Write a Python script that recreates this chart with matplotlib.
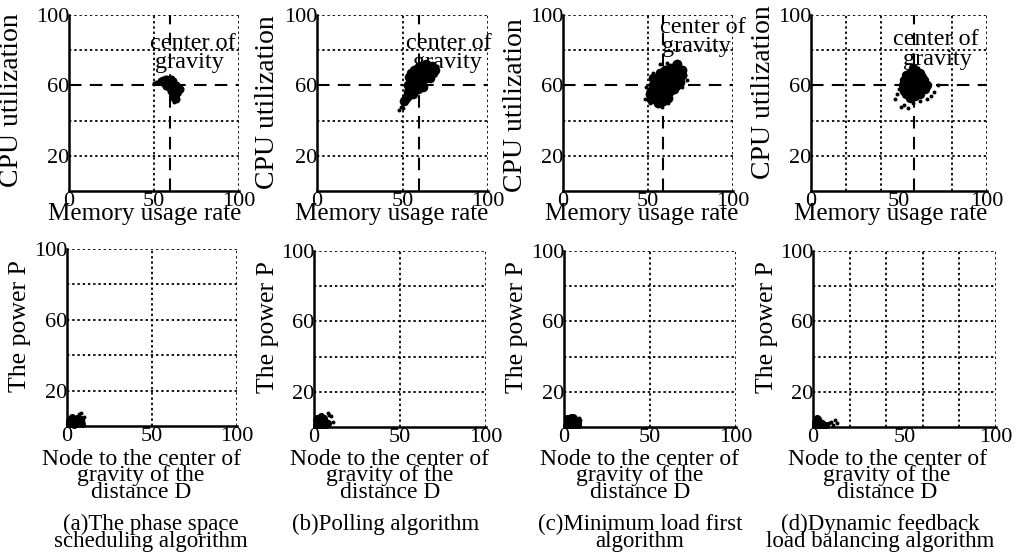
import matplotlib
matplotlib.use("Agg")
import matplotlib.pyplot as plt

W, H = 1024, 555
plt.rcParams['font.family'] = ['Liberation Serif', 'DejaVu Serif']

# ---- data ----
captions = [["(a)The phase space", "scheduling algorithm"],
            ["(b)Polling algorithm"],
            ["(c)Minimum load first", "algorithm"],
            ["(d)Dynamic feedback", "load balancing algorithm"]]
xticks = [0, 50, 100]
yticks = [20, 60, 100]
gravity_mem = [59.5, 59.5, 59, 58.5]
gravity_cpu = 60
top_vgrid = [[50, 100], [50, 100], [50, 100], [20, 40, 80, 100]]
top_hgrid = [20, 40, 80, 100]
bot_vgrid = [[50, 100], [50, 100], [50, 100], [20, 40, 60, 80, 100]]
bot_hgrid = [20, 40, 60, 80, 100]

# top row: memory usage rate / cpu utilization
a_core_x = [54, 55, 57, 59, 61, 56, 58, 60, 62, 57, 59, 61, 63, 60, 62, 64, 61, 63, 62, 63, 58, 60, 63, 65]
a_core_y = [62.5, 63, 63.5, 63, 62.5, 61.5, 61, 61, 60.5, 59.5, 59, 59, 58.5, 57, 57, 57, 55, 55, 53, 52, 62, 63.5, 60, 58]
a_out_x = [50, 51, 52.5, 53.5, 64.5, 62, 65.5]
a_out_y = [61.5, 61.8, 62, 62.2, 55, 50.5, 59]

b_core_x = [53, 54, 55, 55, 56, 56, 57, 57, 58, 58, 58, 59, 59, 60, 60, 61, 61, 62, 62, 62,
            63, 63, 64, 64, 65, 65, 66, 67, 60, 57, 53, 54, 66, 68, 56, 52, 51, 69, 64, 55]
b_core_y = [56, 59, 62, 57, 60, 64, 58, 62, 60, 65, 67, 62, 58, 64, 68, 61, 66, 63, 69, 59,
            66, 71, 64, 68, 70, 66, 68, 71, 71, 69, 60, 65, 64, 67, 55, 53, 51, 69, 72, 67]
b_out_x = [50, 49, 48, 50.5, 53, 70, 54.5]
b_out_y = [49.5, 48, 46, 47, 51.5, 71, 53]

c_core_x = [52, 53, 54, 54, 55, 56, 56, 56, 57, 58, 58, 58, 59, 60, 60, 61, 61, 62, 62, 63,
            63, 64, 64, 65, 66, 66, 67, 68, 60, 57, 55, 53, 69, 65, 59,
            51, 52, 70, 70, 67, 63, 56, 62, 67]
c_core_y = [57, 60, 55, 62, 58, 54, 61, 64, 57, 60, 63, 53, 66, 58, 62, 55, 64, 60, 67, 57,
            63, 65, 61, 68, 63, 66, 69, 65, 69, 67, 52, 64, 62, 58, 51,
            55, 52, 66, 69, 72, 70, 50, 53, 60]
c_out_x = [48, 50, 51, 49, 55, 58, 62, 70, 72, 73, 65, 68, 70, 53, 61, 57, 71]
c_out_y = [52, 56, 50, 59, 49, 48, 50, 70, 66, 63, 73, 72, 59, 67, 73, 72, 68]

d_core_x = [52, 53, 53, 54, 54, 55, 55, 56, 56, 57, 57, 58, 58, 59, 59, 60, 60, 61, 62, 62,
            63, 64, 65, 56, 54, 60, 58, 64, 65, 66, 63, 62]
d_core_y = [60, 57, 63, 55, 61, 58, 64, 53, 61, 56, 66, 59, 63, 54, 68, 61, 57, 64, 59, 55,
            62, 60, 58, 67, 66, 65, 70, 63, 61, 60, 65, 67]
d_out_x = [48, 49, 51, 53, 55, 58, 62, 66, 68, 70, 72, 50, 61, 59]
d_out_y = [52, 55, 48, 49, 47, 50, 51, 52, 54, 56, 60, 58, 70, 71]

# bottom row: distance D / power P
pa_core_x = [1, 2, 3, 4, 2, 5, 6, 3, 5, 7, 1, 4, 6, 8, 8, 9]
pa_core_y = [1, 2, 1, 3, 4, 2, 1, 5, 4, 3, 3, 0.5, 4.5, 2, 4, 1]
pa_out_x = [7, 8.5, 10, 9.5]
pa_out_y = [7, 7.5, 5, 3]

pb_core_x = [1, 2, 3, 4, 5, 6, 7, 2, 3, 4, 5, 6, 7, 1, 3, 5, 8, 2, 4, 6]
pb_core_y = [1, 1, 1, 1, 1, 1, 1, 3, 3, 3, 3, 3, 3, 4, 5, 5, 2, 5, 6, 5]
pb_out_x = [8, 9, 10, 11, 9]
pb_out_y = [8, 7, 6, 3, 1]

pc_core_x = [1, 2, 3, 4, 5, 6, 7, 8, 2, 3, 4, 5, 6, 7, 8, 3, 4, 5, 6, 2]
pc_core_y = [1, 1, 1, 1, 1, 1, 1, 1, 3, 3, 3, 3, 3, 3, 3, 5, 5.5, 5.5, 5, 5]
pc_out_x = [9, 9.5, 1, 8.5]
pc_out_y = [2, 4, 0.5, 5]

pd_core_x = [1, 2, 3, 4, 5, 6, 2, 3, 4, 5, 2, 3, 1, 7]
pd_core_y = [1, 1, 1, 1, 1, 1, 3, 3, 3, 2.5, 5, 4.5, 3, 1]
pd_out_x = [9, 10, 12, 13, 11]
pd_out_y = [2, 3, 4, 2, 1]

top_data = [(a_core_x, a_core_y, a_out_x, a_out_y), (b_core_x, b_core_y, b_out_x, b_out_y),
            (c_core_x, c_core_y, c_out_x, c_out_y), (d_core_x, d_core_y, d_out_x, d_out_y)]
bot_data = [(pa_core_x, pa_core_y, pa_out_x, pa_out_y), (pb_core_x, pb_core_y, pb_out_x, pb_out_y),
            (pc_core_x, pc_core_y, pc_out_x, pc_out_y), (pd_core_x, pd_core_y, pd_out_x, pd_out_y)]

# ---- layout (pixels) ----
top_px = [(69, 15, 239, 191), (317, 15, 488, 191), (563, 15, 733, 191), (811, 15, 987, 191)]
bot_px = [(67, 249, 237, 426), (314, 251, 486, 427), (564, 251, 736, 427), (813, 251, 996, 427)]
top_ylab = [(12, 100), (267, 102), (516, 105), (763, 92)]
top_xlab = [145, 392, 642, 891]
bot_ylab = [(20, 326), (268, 327), (517, 327), (767, 327)]
bot_xlab = [141, 390, 640, 887]
cap_x = [151, 386, 640, 880]
core_size = [34, 48, 50, 46]
grav_txt = [(73, 84, 71, 'center'), (77, 84, 76, 'center'), (57, 93, 58, 'left'), (71, 86, 72, 'center')]

DOT = (0, (1.3, 1.6))
DASH = (0, (6, 4))


def fx(x):
    return x / W


def fy(y):
    return 1 - y / H


def make_ax(fig, box):
    x0, y0, x1, y1 = box
    ax = fig.add_axes([fx(x0), fy(y1), (x1 - x0) / W, (y1 - y0) / H])
    ax.set_xlim(0, 100)
    ax.set_ylim(0, 100)
    ax.set_xticks(xticks)
    ax.set_yticks(yticks)
    ax.tick_params(length=0, labelsize=16)
    ax.tick_params(axis='x', pad=1)
    ax.tick_params(axis='y', pad=0)
    for s in ['top', 'right']:
        ax.spines[s].set_visible(False)
    for s in ['left', 'bottom']:
        ax.spines[s].set_linewidth(1.8)
    return ax


fig = plt.figure(figsize=(W / 100, H / 100), dpi=100)

for i in range(4):
    ax = make_ax(fig, top_px[i])
    for v in top_vgrid[i]:
        ax.axvline(v, color='black', ls=DOT, lw=1.3, zorder=1)
    for h in top_hgrid:
        ax.axhline(h, color='black', ls=DOT, lw=1.3, zorder=1)
    ax.axhline(gravity_cpu, color='black', ls=DASH, lw=1.5, zorder=1)
    ax.axvline(gravity_mem[i], color='black', ls=DASH, lw=1.5, zorder=1)
    tx, ty, gx, ha = grav_txt[i]
    ax.text(tx, ty, "center of", fontsize=17.5, ha=ha, va='center', zorder=2, clip_on=False)
    ax.text(gx, ty - 11, "gravity", fontsize=17.5, ha=ha, va='center', zorder=2, clip_on=False)
    cx, cy, ox, oy = top_data[i]
    ax.scatter(cx, cy, s=core_size[i], color='black', lw=0, zorder=3)
    ax.scatter(ox, oy, s=8, color='black', lw=0, zorder=3)
    fig.text(fx(top_xlab[i]), fy(220), "Memory usage rate", fontsize=18, ha='center', va='baseline')
    fig.text(fx(top_ylab[i][0]), fy(top_ylab[i][1]), "CPU utilization", fontsize=20,
             rotation=90, ha='center', va='center')

for i in range(4):
    ax = make_ax(fig, bot_px[i])
    for v in bot_vgrid[i]:
        ax.axvline(v, color='black', ls=DOT, lw=1.3, zorder=1)
    for h in bot_hgrid:
        ax.axhline(h, color='black', ls=DOT, lw=1.3, zorder=1)
    cx, cy, ox, oy = bot_data[i]
    ax.scatter(cx, cy, s=26, color='black', lw=0, zorder=3, clip_on=False)
    ax.scatter(ox, oy, s=8, color='black', lw=0, zorder=3, clip_on=False)
    fig.text(fx(bot_ylab[i][0]), fy(bot_ylab[i][1]), "The power P", fontsize=18.5,
             rotation=90, ha='center', va='center')
    for k, line in enumerate(["Node to the center of", "gravity of the", "distance D"]):
        fig.text(fx(bot_xlab[i]), fy(465 + 16.5 * k), line, fontsize=17, ha='center', va='baseline')
    for k, line in enumerate(captions[i]):
        fig.text(fx(cap_x[i]), fy(530 + 17.5 * k), line, fontsize=16.5, ha='center', va='baseline')

fig.savefig("out.png", dpi=100)
